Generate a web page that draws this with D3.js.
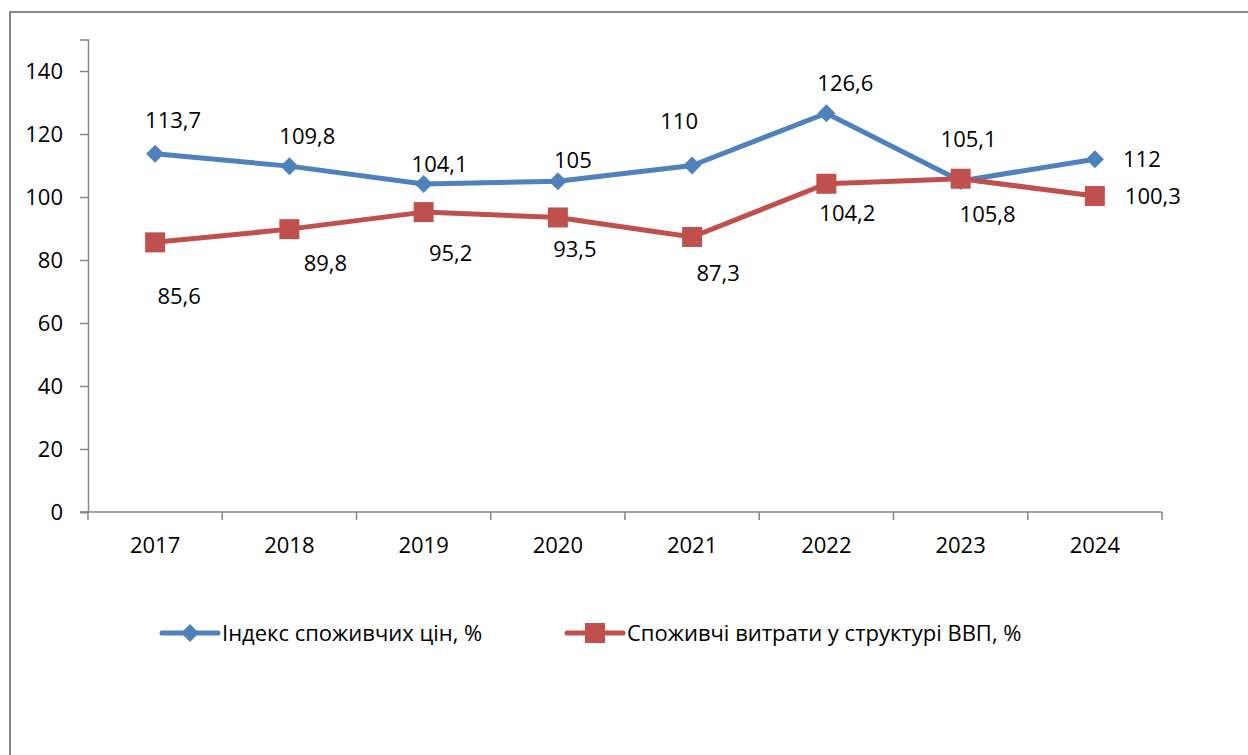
<!DOCTYPE html>
<html>
<head>
<meta charset="utf-8">
<script src="https://cdn.jsdelivr.net/npm/d3@7"></script>
<style>
  body { margin: 0; background: #fff; }
  text { font-family: "Open Sans", sans-serif; fill: #000; }
</style>
</head>
<body>
<div id="chart"></div>
<script>
const years = ["2017", "2018", "2019", "2020", "2021", "2022", "2023", "2024"];
const cpi = [113.7, 109.8, 104.1, 105, 110, 126.6, 105.1, 112];
const consumption = [85.6, 89.8, 95.2, 93.5, 87.3, 104.2, 105.8, 100.3];
const yTicks = [0, 20, 40, 60, 80, 100, 120, 140];
const seriesNames = ["Індекс споживчих цін, %", "Споживчі витрати у структурі ВВП, %"];

// label nudges (dx, dy) as placed in the original
const cpiLabelOffsets = [[18, -34], [18, -30], [16, -20], [15, -21], [-13, -44], [19, -30], [8, -42], [47, 0]];
const consLabelOffsets = [[24, 54], [36, 34], [27, 41], [17, 32], [26, 36], [21, 30], [27, 36], [58, 0]];

const blue = "#4F81BD";
const red = "#C0504D";
const grey = "#868686";
const fs = 22;

const svg = d3.select("#chart")
    .append("svg")
    .attr("width", 1248)
    .attr("height", 755);

svg.append("rect")
    .attr("width", 1248)
    .attr("height", 755)
    .attr("fill", "#fff");

// outer frame (only left and top edges are visible)
svg.append("rect")
    .attr("x", 10)
    .attr("y", 12)
    .attr("width", 1400)
    .attr("height", 900)
    .attr("fill", "none")
    .attr("stroke", grey)
    .attr("stroke-width", 2);

const x = d3.scaleBand().domain(years).range([88, 1162]);
const y = d3.scaleLinear().domain([0, 150]).range([512, 39.5]);
const cx = (d) => x(d) + x.bandwidth() / 2;

// y axis
const yAxis = svg.append("g")
    .attr("transform", "translate(88,0)")
    .call(d3.axisLeft(y).tickValues(yTicks).tickSize(8).tickPadding(17));
yAxis.select(".domain").attr("stroke", grey).attr("stroke-width", 1.5);
yAxis.selectAll(".tick line").attr("stroke", grey).attr("stroke-width", 1.5);
yAxis.selectAll(".tick text").attr("font-size", fs).attr("font-family", "Open Sans").attr("fill", "#000");

// x axis with ticks on band edges
const xAxisG = svg.append("g").attr("transform", "translate(0,512)");
xAxisG.append("line")
    .attr("x1", 80).attr("x2", 1162)
    .attr("stroke", grey).attr("stroke-width", 1.5);
const edges = years.map((d) => x(d)).concat([x(years[years.length - 1]) + x.bandwidth()]);
xAxisG.selectAll("line.tk")
    .data(edges)
    .enter()
    .append("line")
    .attr("class", "tk")
    .attr("x1", (d) => d).attr("x2", (d) => d)
    .attr("y1", 0).attr("y2", 8)
    .attr("stroke", grey).attr("stroke-width", 1.5);
xAxisG.selectAll("text")
    .data(years)
    .enter()
    .append("text")
    .attr("x", (d) => cx(d))
    .attr("y", 33)
    .attr("dy", "0.35em")
    .attr("text-anchor", "middle")
    .attr("font-size", fs)
    .text((d) => d);

const line = d3.line().x((d, i) => cx(years[i])).y((d) => y(d));

function drawSeries(values, color, marker, offsets) {
    svg.append("path")
        .datum(values)
        .attr("d", line)
        .attr("fill", "none")
        .attr("stroke", color)
        .attr("stroke-width", 5)
        .attr("stroke-linejoin", "round");

    svg.selectAll(null)
        .data(values)
        .enter()
        .append("path")
        .attr("d", marker)
        .attr("transform", (d, i) => `translate(${cx(years[i])},${y(d)})`)
        .attr("fill", color);

    svg.selectAll(null)
        .data(values)
        .enter()
        .append("text")
        .attr("x", (d, i) => cx(years[i]) + offsets[i][0])
        .attr("y", (d, i) => y(d) + offsets[i][1])
        .attr("dy", "0.35em")
        .attr("text-anchor", "middle")
        .attr("font-size", fs)
        .text((d) => String(d).replace(".", ","));
}

const diamond = "M0,-9L9,0L0,9L-9,0Z";
const square = "M-10,-10H10V10H-10Z";

drawSeries(cpi, blue, diamond, cpiLabelOffsets);
drawSeries(consumption, red, square, consLabelOffsets);

// legend
const legend = [
    { name: seriesNames[0], color: blue, marker: diamond, x: 162 },
    { name: seriesNames[1], color: red, marker: square, x: 567 }
];
const lg = svg.selectAll("g.legend")
    .data(legend)
    .enter()
    .append("g")
    .attr("class", "legend")
    .attr("transform", (d) => `translate(${d.x},633)`);
lg.append("line")
    .attr("x1", 0).attr("x2", 56)
    .attr("stroke", (d) => d.color)
    .attr("stroke-width", 5)
    .attr("stroke-linecap", "round");
lg.append("path")
    .attr("d", (d) => d.marker)
    .attr("transform", "translate(28,0)")
    .attr("fill", (d) => d.color);
lg.append("text")
    .attr("x", 60)
    .attr("dy", "0.35em")
    .attr("font-size", fs)
    .text((d) => d.name);
</script>
</body>
</html>
